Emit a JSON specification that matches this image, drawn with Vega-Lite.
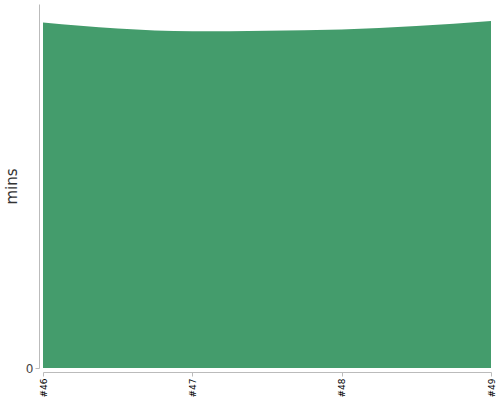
{
  "$schema": "https://vega.github.io/schema/vega-lite/v6.json",
  "autosize": "none",
  "padding": {"left": 43, "top": 4, "right": 9, "bottom": 32},
  "width": 448,
  "height": 364,
  "data": {
    "values": [
      {"game": "#46", "mins": 94.9},
      {"game": "#47", "mins": 92.5},
      {"game": "#48", "mins": 93.0},
      {"game": "#49", "mins": 95.3}
    ]
  },
  "config": {
    "font": "DejaVu Sans",
    "view": {"stroke": null},
    "axis": {"domainColor": "#bbbbbb", "tickColor": "#bbbbbb", "grid": false, "offset": 4}
  },
  "mark": {"type": "area", "color": "#449c6c", "interpolate": "monotone", "opacity": 1},
  "encoding": {
    "x": {
      "field": "game",
      "type": "ordinal",
      "scale": {"type": "point", "padding": 0},
      "title": null,
      "axis": {"labelAngle": -90, "labelFontSize": 9, "labelColor": "#000000", "tickSize": 4}
    },
    "y": {
      "field": "mins",
      "type": "quantitative",
      "scale": {"domain": [0, 100], "nice": false},
      "title": "mins",
      "axis": {
        "values": [0],
        "labelFontSize": 12,
        "labelColor": "#444444",
        "titleFontSize": 15,
        "titleFontWeight": "normal",
        "titleColor": "#333333",
        "titlePadding": 6,
        "tickSize": 4
      }
    }
  }
}
